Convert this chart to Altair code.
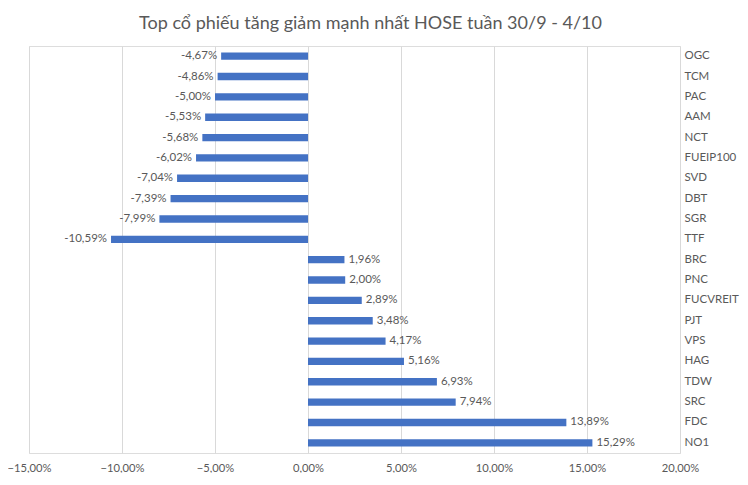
import altair as alt
import pandas as pd

tickers = ["OGC", "TCM", "PAC", "AAM", "NCT", "FUEIP100", "SVD", "DBT", "SGR", "TTF",
           "BRC", "PNC", "FUCVREIT", "PJT", "VPS", "HAG", "TDW", "SRC", "FDC", "NO1"]
changes = [-4.67, -4.86, -5.00, -5.53, -5.68, -6.02, -7.04, -7.39, -7.99, -10.59,
           1.96, 2.00, 2.89, 3.48, 4.17, 5.16, 6.93, 7.94, 13.89, 15.29]
x_ticks = [-15, -10, -5, 0, 5, 10, 15, 20]

df = pd.DataFrame({"ticker": tickers, "change": changes})
df["label"] = [f"{v:.2f}".replace(".", ",") + "%" for v in changes]

FONT = "Lato, Open Sans, sans-serif"
TXT = "#595959"

x = alt.X("change:Q",
          scale=alt.Scale(domain=[-15, 20], nice=False, zero=False),
          axis=alt.Axis(values=x_ticks, title=None, grid=True, gridColor="#d9d9d9",
                        domain=False, ticks=False, labelPadding=9, labelFontSize=11.2,
                        labelColor=TXT, labelFont=FONT, labelFlush=False,
                        labelExpr="replace(format(datum.value, '.2f'), '.', ',') + '%'"))
y = alt.Y("ticker:N", sort=tickers,
          scale=alt.Scale(paddingInner=0.64, paddingOuter=0.32),
          axis=alt.Axis(orient="right", title=None, domain=False, ticks=False, grid=False,
                        labelAlign="left", labelPadding=4, labelFontSize=11.5,
                        labelColor=TXT, labelFont=FONT))

base = alt.Chart(df)
bars = base.mark_bar(color="#4472C4").encode(x=x, y=y)
neg = base.transform_filter("datum.change < 0").mark_text(
    align="right", dx=-4, fontSize=11.5, color=TXT, font=FONT
).encode(x="change:Q", y=alt.Y("ticker:N", sort=tickers), text="label:N")
pos = base.transform_filter("datum.change >= 0").mark_text(
    align="left", dx=4, fontSize=11.5, color=TXT, font=FONT
).encode(x="change:Q", y=alt.Y("ticker:N", sort=tickers), text="label:N")

chart = alt.layer(bars, neg, pos).properties(
    width=651, height=407,
    title=alt.TitleParams("Top cổ phiếu tăng giảm mạnh nhất HOSE tuần 30/9 - 4/10",
                          fontSize=18, fontWeight="normal", color=TXT, font=FONT,
                          anchor="middle", dx=16, offset=13),
    autosize=alt.AutoSizeParams(type="none"),
    padding={"left": 21, "top": 38, "right": 60, "bottom": 20},
).configure_view(stroke=None).configure(background="white")

chart.save("out.html", embed_options={"renderer": "svg", "actions": False})
